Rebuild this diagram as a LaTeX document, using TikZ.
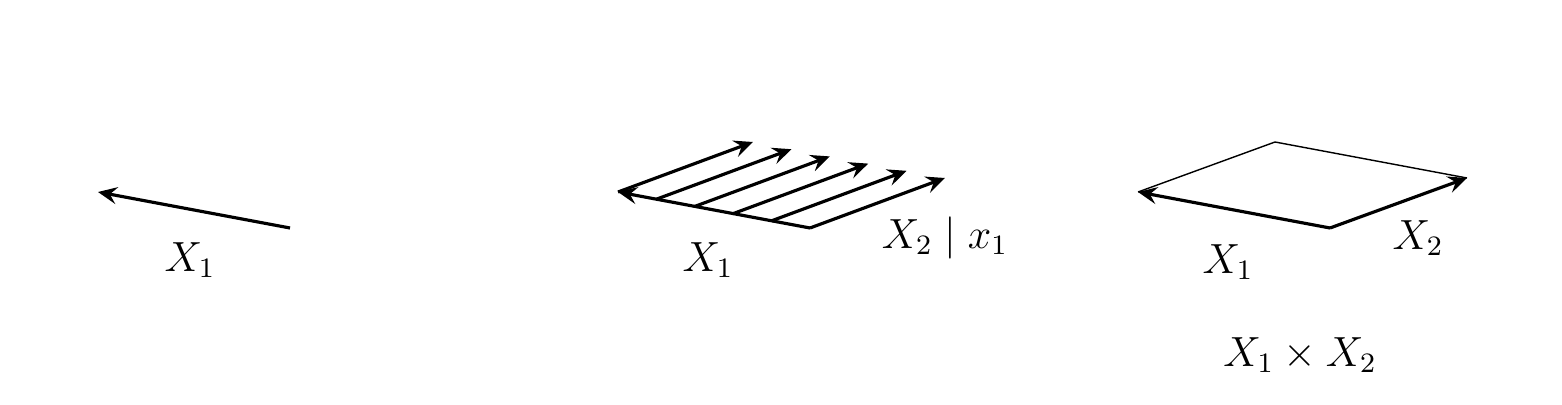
\documentclass[tikz,border=0pt]{standalone}
\usepackage{amsmath,amssymb}
\usetikzlibrary{arrows.meta,calc}

\begin{document}
\begin{tikzpicture}[
  x=1cm,y=1cm,font=\large,
  vec/.style={-{Stealth[length=1.9mm,width=1.7mm,inset=0.7mm]},line width=0.9pt},
  side/.style={line width=0.4pt},
  lab/.style={inner sep=1pt}
]
\useasboundingbox (0,0) rectangle (15.62,4.04);

% Marginal.
\coordinate (o1) at (2.90,1.76);
\coordinate (a1) at (0.98,2.12);
\draw[vec] (o1) -- (a1);
\node[lab] (l1) at (1.90,1.44) {$X_1$};

% Conditional.
\coordinate (o2) at (8.10,1.76);
\coordinate (a2) at (6.18,2.12);
\draw[vec] (o2) -- (a2);
\foreach \i/\f in {0/0,1/0.2,2/0.4,3/0.6,4/0.8,5/1}{
  \coordinate (s\i) at ($(a2)!\f!(o2)$);
  \coordinate (t\i) at ($(s\i)+(1.35,0.50)$);
  \draw[vec] (s\i) -- (t\i);
}
\node[lab] (l2) at (7.08,1.44) {$X_1$};
\node[lab] (l3) at (9.45,1.66) {$X_2 \mid x_1$};

% Product.
\coordinate (o3) at (13.30,1.76);
\coordinate (a3) at (11.38,2.12);
\coordinate (b3) at ($(o3)+(1.37,0.50)$);
\coordinate (c3) at ($(a3)+(1.37,0.50)$);
\draw[side] (a3) -- (c3) -- (b3);
\draw[vec] (o3) -- (a3);
\draw[vec] (o3) -- (b3);
\node[lab] (l4) at (12.28,1.42) {$X_1$};
\node[lab] (l5) at (14.18,1.66) {$X_2$};
\node[lab] (l6) at (13.00,0.49) {$X_1 \times X_2$};
\end{tikzpicture}
\end{document}
